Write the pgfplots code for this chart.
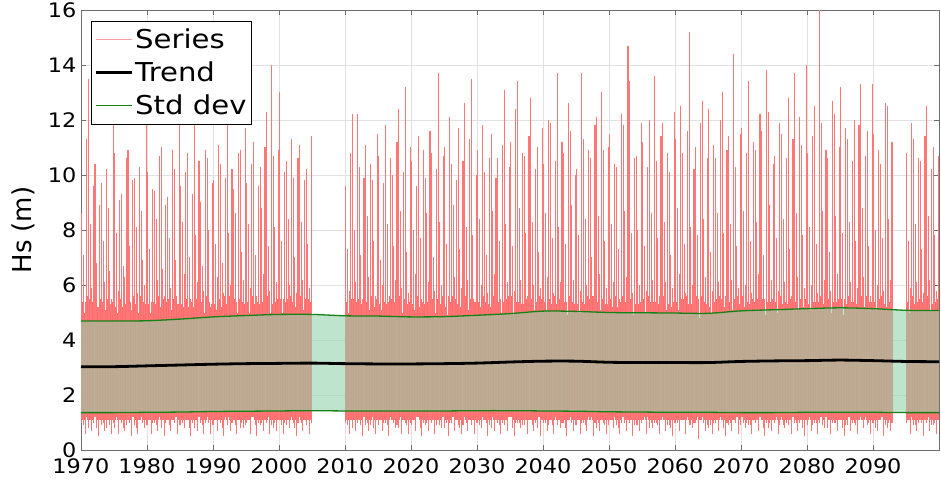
\documentclass[border=0pt]{standalone}
\usepackage{fontspec}
\setmainfont{DejaVu Sans}[FakeStretch=1.12]
\newfontfamily\ylabfont{DejaVu Sans}
\usepackage{pgfplots}
\pgfplotsset{compat=1.18}
\usepackage{pgfplotstable}

\definecolor{bandfill}{RGB}{144,209,170}
\definecolor{sdgreen}{RGB}{20,130,20}
\definecolor{axgray}{RGB}{110,110,110}
\definecolor{gridgray}{RGB}{225,225,225}

% stroke colour written straight into the page stream (r g b)
\makeatletter
\newcommand\rawstroke[1]{\pgfsys@invoke{#1 RG}}
\makeatother

% Hs record: per year four storm peaks (p) and the calm levels (t) that follow them
\pgfplotstableread{
yr p1 t1 p2 t2 p3 t3 p4 t4
1970 8.6 1.0 7.1 0.9 5.4 0.6 11.3 1.2
1971 13.5 0.8 8.2 1.1 5.9 0.7 9.6 1.0
1972 10.4 1.2 6.8 0.8 5.2 0.5 8.9 1.1
1973 9.7 0.9 7.6 1.0 6.1 0.7 10.2 0.8
1974 8.8 1.1 6.5 0.9 5.5 0.6 11.9 1.0
1975 10.8 0.8 7.9 1.2 5.8 0.6 9.1 1.1
1976 9.3 1.0 6.7 0.8 6.3 0.7 10.6 0.9
1977 10.9 1.1 7.4 1.0 5.1 0.5 9.8 1.2
1978 9.9 0.9 8.1 0.8 5.7 0.6 10.3 1.1
1979 8.7 1.2 6.9 1.0 6.0 0.8 11.9 0.9
1980 10.1 0.9 7.3 1.1 5.4 0.6 9.5 1.0
1981 9.4 1.0 8.4 0.9 6.2 0.7 10.7 1.2
1982 11.0 0.8 6.6 1.1 5.6 0.5 8.9 1.0
1983 9.2 1.1 7.7 0.9 5.9 0.7 10.9 1.1
1984 10.2 1.0 6.9 1.2 5.3 0.6 11.9 0.9
1985 9.6 0.9 8.3 1.0 6.4 0.8 10.1 1.1
1986 10.8 1.1 7.0 0.8 5.5 0.5 9.3 1.0
1987 11.9 0.8 7.8 1.1 6.1 0.7 10.5 1.2
1988 9.0 1.0 6.7 0.9 5.8 0.6 10.9 1.0
1989 10.6 1.2 8.0 1.0 5.2 0.6 9.7 0.9
1990 9.8 0.9 7.5 1.1 6.3 0.7 11.1 1.1
1991 10.4 1.0 6.8 0.8 5.7 0.5 9.9 1.2
1992 12.0 0.9 7.9 1.2 6.0 0.7 10.2 1.0
1993 9.5 1.1 8.6 0.9 5.4 0.6 10.8 1.1
1994 10.9 0.8 7.2 1.0 6.2 0.8 11.7 0.9
1995 9.7 1.0 8.2 1.1 5.9 0.6 10.4 1.2
1996 11.2 1.2 7.1 0.9 5.6 0.5 9.6 1.0
1997 10.3 0.9 8.8 1.0 6.4 0.7 11.0 1.1
1998 12.3 1.0 7.4 1.2 5.8 0.6 14.0 0.9
1999 10.7 0.8 8.1 1.0 6.1 0.7 10.9 1.1
2000 13.0 1.1 7.6 0.9 5.5 0.6 10.1 1.0
2001 10.5 0.9 8.4 1.1 6.0 0.8 11.3 1.2
2002 9.9 1.0 7.0 0.8 5.7 0.5 10.6 1.0
2003 11.1 1.2 8.3 1.0 6.2 0.7 9.8 1.1
2004 10.2 0.9 7.5 1.1 5.9 0.6 11.4 1.0
2010 9.6 1.0 7.3 0.9 5.8 0.6 10.8 1.1
2011 12.2 0.8 8.0 1.1 6.1 0.7 12.2 1.0
2012 10.3 1.1 7.1 0.9 5.5 0.5 9.9 1.2
2013 11.1 0.9 8.5 1.0 6.3 0.7 10.4 0.9
2014 9.8 1.2 7.6 0.8 5.6 0.6 11.5 1.1
2015 10.7 0.9 6.9 1.1 6.0 0.7 9.7 1.0
2016 11.8 1.0 8.2 0.9 5.4 0.5 10.6 1.2
2017 10.0 1.1 7.4 1.0 6.2 0.8 11.2 0.9
2018 12.4 0.8 8.7 1.2 5.9 0.6 10.1 1.1
2019 13.2 1.0 7.2 0.9 5.7 0.6 11.0 1.0
2020 10.5 0.9 8.0 1.1 6.4 0.7 9.6 1.2
2021 11.4 1.2 7.7 0.8 5.5 0.5 10.9 1.0
2022 9.9 0.9 8.6 1.0 6.1 0.7 11.6 1.1
2023 10.8 1.0 7.0 1.1 5.8 0.6 10.2 0.9
2024 13.7 1.1 8.3 0.9 6.0 0.8 10.7 1.2
2025 11.0 0.8 7.5 1.0 5.6 0.5 12.1 1.0
2026 10.4 1.0 8.9 1.2 6.3 0.7 9.8 1.1
2027 11.7 0.9 7.3 0.8 5.9 0.6 10.5 0.9
2028 12.6 1.2 8.1 1.0 6.2 0.7 11.3 1.1
2029 13.5 0.9 7.8 1.1 5.4 0.6 10.0 1.0
2030 10.9 1.0 8.4 0.9 6.0 0.8 11.8 1.2
2031 10.1 1.1 7.1 1.0 5.7 0.5 10.6 0.9
2032 11.5 0.8 8.7 1.2 6.4 0.7 9.9 1.1
2033 10.6 1.0 7.6 0.9 5.5 0.6 11.1 1.0
2034 13.1 0.9 8.2 1.1 6.1 0.7 10.3 1.2
2035 11.2 1.2 7.4 0.8 5.8 0.5 12.4 1.0
2036 13.4 1.0 8.8 1.0 6.2 0.8 10.8 0.9
2037 10.7 0.9 7.9 1.1 5.6 0.6 11.4 1.1
2038 12.8 1.1 8.3 0.9 6.0 0.7 10.2 1.0
2039 11.0 0.8 7.2 1.2 5.9 0.5 11.7 1.1
2040 10.4 1.0 8.6 1.0 6.3 0.7 12.0 0.9
2041 11.9 1.1 7.7 0.9 5.7 0.6 10.5 1.2
2042 13.7 0.9 8.1 1.1 6.1 0.8 11.2 1.0
2043 10.8 1.0 7.5 0.8 5.4 0.5 12.6 1.1
2044 11.6 1.2 8.9 1.0 6.2 0.7 10.0 0.9
2045 10.2 0.9 7.8 1.1 5.8 0.6 13.7 1.0
2046 11.3 1.0 8.4 0.9 6.0 0.7 10.9 1.2
2047 10.6 1.1 7.0 1.2 5.6 0.5 11.8 1.0
2048 12.1 0.8 8.5 1.0 6.4 0.7 13.0 1.1
2049 10.9 1.0 7.6 0.9 5.9 0.6 11.0 0.9
2050 11.5 1.1 8.2 1.1 6.1 0.8 10.4 1.2
2051 10.3 0.9 7.3 0.8 5.5 0.6 12.2 1.0
2052 11.8 1.2 8.7 1.0 6.3 0.7 14.7 1.1
2053 13.4 1.0 7.9 1.1 5.7 0.5 10.6 0.9
2054 10.7 0.9 8.0 0.9 6.0 0.7 11.9 1.0
2055 11.2 1.1 7.4 1.2 5.8 0.6 10.3 1.2
2056 12.0 0.8 8.6 1.0 6.2 0.8 13.6 1.0
2057 10.5 1.0 7.7 0.9 5.6 0.6 11.4 1.1
2058 11.9 1.2 8.3 1.1 6.1 0.7 10.8 0.9
2059 10.1 0.9 7.1 0.8 5.9 0.5 12.3 1.0
2060 11.3 1.0 8.8 1.0 6.4 0.7 12.5 1.1
2061 10.8 1.1 7.5 1.1 5.7 0.6 11.6 1.2
2062 15.2 0.9 8.1 0.9 6.0 0.8 10.2 1.0
2063 11.0 1.0 7.8 1.2 5.5 0.4 11.9 1.1
2064 12.7 1.2 8.4 1.0 6.3 0.7 10.6 0.9
2065 12.4 0.8 7.2 0.9 5.8 0.6 11.1 1.0
2066 10.6 1.0 8.6 1.1 6.1 0.7 12.0 1.2
2067 13.0 1.1 7.9 0.8 5.6 0.5 10.9 1.0
2068 11.4 0.9 8.2 1.0 6.2 0.7 14.4 1.1
2069 10.3 1.0 7.4 1.2 5.9 0.6 11.5 0.9
2070 11.7 1.2 8.7 1.0 6.0 0.8 10.8 1.0
2071 13.4 0.9 7.6 0.9 5.7 0.6 11.2 1.1
2072 10.9 1.0 8.3 1.1 6.4 0.7 12.2 1.2
2073 11.6 1.1 7.1 0.8 5.5 0.5 13.8 1.0
2074 12.3 0.8 8.9 1.0 6.2 0.7 10.4 1.1
2075 10.7 1.0 7.7 1.2 5.8 0.6 11.9 0.9
2076 11.5 1.2 8.4 0.9 6.1 0.8 10.6 1.0
2077 12.8 0.9 7.3 1.1 5.6 0.6 11.3 1.2
2078 13.7 1.0 8.6 1.0 6.3 0.7 12.1 1.0
2079 11.1 1.1 7.8 0.8 5.9 0.5 14.0 1.1
2080 10.8 0.9 8.1 1.2 6.0 0.7 11.4 0.9
2081 12.5 1.0 7.5 1.0 5.7 0.6 16.0 1.0
2082 11.9 1.2 8.7 0.9 6.2 0.8 10.9 1.2
2083 10.6 0.8 7.2 1.1 5.8 0.6 12.7 1.0
2084 12.2 1.0 8.5 1.0 6.4 0.7 11.0 1.1
2085 13.2 1.1 7.9 0.8 5.5 0.5 11.7 0.9
2086 11.3 0.9 8.3 1.2 6.1 0.7 10.5 1.0
2087 12.0 1.0 7.6 0.9 5.9 0.6 11.8 1.1
2088 13.3 1.2 8.8 1.1 6.3 0.8 10.7 1.2
2089 11.6 0.9 7.4 1.0 5.6 0.6 13.3 1.0
2090 11.5 1.0 8.0 0.8 6.0 0.7 10.9 1.1
2091 10.4 1.1 7.7 1.2 5.8 0.5 12.6 0.9
2092 12.5 0.8 8.4 1.0 6.2 0.7 11.2 1.0
2095 10.8 1.0 7.6 1.1 5.9 0.6 11.9 1.2
2096 11.3 0.9 8.2 0.9 6.1 0.7 10.6 1.0
2097 10.5 1.1 7.3 1.0 5.7 0.5 11.4 1.1
2098 12.5 1.0 8.5 1.2 6.2 0.7 10.2 0.9
2099 11.0 0.9 7.8 1.0 5.8 0.6 10.7 1.1
}\hsdata

% trend and the two standard deviation curves
\pgfplotstableread{
yr up lo tr
1970 4.69 1.36 3.03
1975 4.69 1.36 3.03
1980 4.70 1.37 3.06
1985 4.76 1.38 3.09
1990 4.84 1.40 3.12
1995 4.89 1.41 3.14
2000 4.93 1.42 3.15
2005 4.93 1.43 3.16
2010 4.88 1.42 3.14
2015 4.87 1.42 3.13
2020 4.84 1.42 3.13
2025 4.85 1.42 3.14
2030 4.90 1.43 3.16
2035 4.96 1.43 3.20
2040 5.05 1.42 3.23
2045 5.04 1.41 3.23
2050 5.00 1.39 3.19
2055 4.99 1.38 3.18
2060 4.98 1.37 3.18
2065 4.97 1.37 3.18
2070 5.06 1.36 3.22
2075 5.10 1.36 3.24
2080 5.14 1.37 3.25
2085 5.17 1.37 3.27
2090 5.14 1.37 3.25
2095 5.08 1.36 3.22
2100 5.07 1.36 3.21
}\sddata

% outline of the band between the curves: upper curve forward, lower curve back
\pgfplotstableread{
yr v
1970 4.69
1975 4.69
1980 4.70
1985 4.76
1990 4.84
1995 4.89
2000 4.93
2005 4.93
2010 4.88
2015 4.87
2020 4.84
2025 4.85
2030 4.90
2035 4.96
2040 5.05
2045 5.04
2050 5.00
2055 4.99
2060 4.98
2065 4.97
2070 5.06
2075 5.10
2080 5.14
2085 5.17
2090 5.14
2095 5.08
2100 5.07
2100 1.36
2095 1.36
2090 1.37
2085 1.37
2080 1.37
2075 1.36
2070 1.36
2065 1.37
2060 1.37
2055 1.38
2050 1.39
2045 1.41
2040 1.42
2035 1.43
2030 1.43
2025 1.42
2020 1.42
2015 1.42
2010 1.42
2005 1.43
2000 1.42
1995 1.41
1990 1.40
1985 1.38
1980 1.37
1975 1.36
1970 1.36
}\bandpoly

% one season of the record, drawn as vertical strokes from calm level to peak:
% a broad stroke over the frequent range, a thin stroke over the full range
\newcommand{\season}[2]{%
  \addplot[forget plot, draw=none,
    error bars/.cd, y dir=plus, y explicit, error mark=none,
    error bar style={draw, line width=1.9pt, /utils/exec={\rawstroke{1 0.431 0.431}}}]
    table[x expr=\thisrow{yr}+#2, y expr={max(\thisrow{t#1},1.1)},
      y error plus expr={min(\thisrow{p#1},4.4+\thisrow{t#1})-max(\thisrow{t#1},1.1)}] {\hsdata};
  \addplot[forget plot, draw=none,
    error bars/.cd, y dir=plus, y explicit, error mark=none,
    error bar style={draw, line width=1.05pt, /utils/exec={\rawstroke{1 0.463 0.463}}}]
    table[x expr=\thisrow{yr}+#2, y=t#1,
      y error plus expr={\thisrow{p#1}-\thisrow{t#1}}] {\hsdata};
}

\begin{document}
\begin{tikzpicture}
\begin{axis}[
  name=ax,
  scale only axis, width=858pt, height=440pt,
  xmin=1970, xmax=2100, ymin=0, ymax=16,
  xtick={1970,1980,...,2100},
  xticklabels={1970,1980,1990,2000,2010,2020,2030,2040,2050,2060,2070,2080,2090,{}},
  ytick={0,2,...,16},
  xtick pos=both, ytick pos=both,
  xticklabel pos=lower, yticklabel pos=left,
  tick align=inside, major tick length=5pt,
  grid=major, major grid style={draw=gridgray, line width=0.8pt},
  axis line style={draw=axgray, line width=0.9pt},
  tick style={draw=axgray, line width=0.9pt},
  /pgf/number format/assume math mode=true,
  ticklabel style={font=\fontsize{20}{24}\selectfont},
  xticklabel style={yshift=-5pt},
  yticklabel style={xshift=-1pt},
  ylabel={Hs (m)},
  ylabel style={font=\fontsize{26}{30}\selectfont\ylabfont,
    at={(axis description cs:-0.0804,0.5)}, anchor=north, inner sep=0pt},
  legend cell align=left,
  legend style={at={(0.0117,0.975)}, anchor=north west, draw=black,
    line width=0.8pt, fill=white, font=\fontsize{26}{30}\selectfont,
    inner xsep=3pt, inner ysep=2pt,
    nodes={text height=19pt, text depth=1pt, inner ysep=6.5pt, inner xsep=2pt}},
]
\season{1}{0.125}
\season{2}{0.375}
\season{3}{0.625}
\season{4}{0.875}

% standard deviation band
\addplot[forget plot, draw=none, fill=bandfill, fill opacity=0.585] table[x=yr, y=v] {\bandpoly};
\addplot[forget plot, draw=sdgreen, line width=1.3pt, smooth] table[x=yr, y=up] {\sddata};
\addplot[forget plot, draw=sdgreen, line width=1.3pt, smooth] table[x=yr, y=lo] {\sddata};

% trend
\addplot[forget plot, draw=black, line width=2.8pt, smooth] table[x=yr, y=tr] {\sddata};

\addlegendimage{legend image code/.code={%
  \rawstroke{0.961 0.627 0.627}\draw[line width=0.9pt] (0pt,0pt) -- (36pt,0pt);}}
\addlegendentry{Series}
\addlegendimage{legend image code/.code={%
  \rawstroke{0 0 0}\draw[line width=2.8pt] (0pt,0pt) -- (36pt,0pt);}}
\addlegendentry{Trend}
\addlegendimage{legend image code/.code={%
  \rawstroke{0.078 0.51 0.078}\draw[line width=1.2pt] (0pt,0pt) -- (36pt,0pt);}}
\addlegendentry{Std dev}
\end{axis}
\pgfresetboundingbox
\path[use as bounding box] ([xshift=-81pt,yshift=-40pt]ax.south west)
  rectangle ([xshift=2pt,yshift=10pt]ax.north east);
\end{tikzpicture}
\end{document}
